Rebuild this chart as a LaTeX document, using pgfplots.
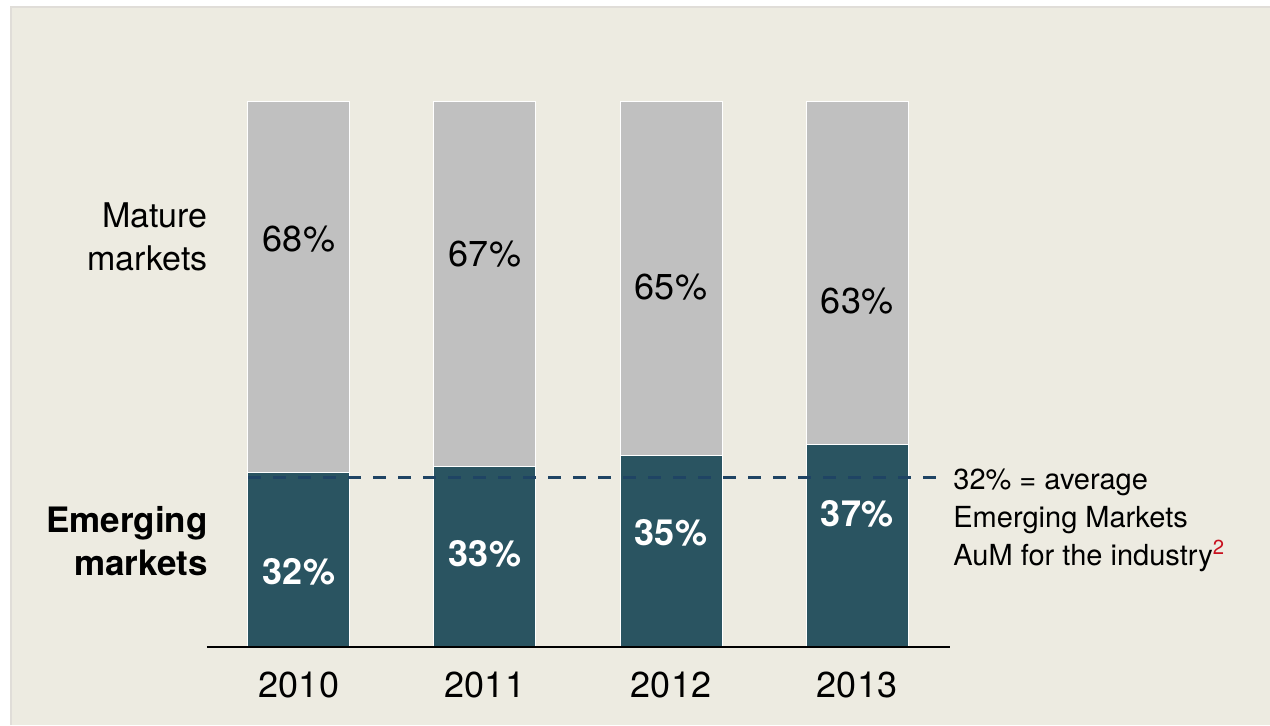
\documentclass[border=0pt]{standalone}
\usepackage{pgfplots}
\pgfplotsset{compat=1.18}
\usepackage{fontspec}
\setmainfont{TeX Gyre Heros}
\definecolor{bg}{RGB}{237,235,225}
\definecolor{framec}{RGB}{224,221,216}
\definecolor{emerg}{RGB}{42,84,97}
\definecolor{mature}{RGB}{192,192,192}
\definecolor{avg}{RGB}{31,68,100}
\definecolor{fnred}{RGB}{200,16,30}
\begin{document}
\begin{tikzpicture}
\begin{scope}[x=0.5pt,y=-0.5pt,shift={(-103.5pt,323.5pt)}]
  \fill[white] (0,0) rectangle (1270,725);
  \fill[bg] (11,7) rectangle (1270,725);
  \draw[framec, line width=1pt] (11.5,725) -- (11.5,7.5) -- (1270,7.5);
\end{scope}
\begin{axis}[
  at={(0,0)}, anchor=south west, scale only axis,
  width=371.5pt, height=273pt,
  xmin=-0.4946, xmax=3.5, ymin=0, ymax=100,
  ybar stacked, bar width=51pt,
  axis line style={draw=none},
  ytick=\empty,
  xtick={0,1,2,3}, xticklabels={2010,2011,2012,2013},
  major tick length=0pt,
  xticklabel style={anchor=base, yshift=-25pt, font=\fontsize{18}{22}\selectfont},
  clip=false,
]
\addplot[fill=emerg, draw=white, line width=0.5pt] coordinates {(0,32) (1,33) (2,35) (3,37)};
\addplot[fill=mature, draw=white, line width=0.5pt] coordinates {(0,68) (1,67) (2,65) (3,63)};
\end{axis}
\begin{axis}[
  at={(0,0)}, anchor=south west, scale only axis,
  width=371.5pt, height=273pt,
  xmin=-0.4946, xmax=3.5, ymin=0, ymax=100,
  hide axis, clip=false,
]
\draw[black, line width=1pt] (rel axis cs:0,0) -- (rel axis cs:1,0);
\addplot[avg, line width=1.5pt, dash pattern=on 6.5pt off 6pt, mark=none] coordinates {(-0.274,31) (3.473,31)};
\node[anchor=base, font=\fontsize{18}{22}\selectfont] at (axis cs:0,72.5) {68\%};
\node[anchor=base, font=\fontsize{18}{22}\selectfont] at (axis cs:1,69.6) {67\%};
\node[anchor=base, font=\fontsize{18}{22}\selectfont] at (axis cs:2,63.7) {65\%};
\node[anchor=base, font=\fontsize{18}{22}\selectfont] at (axis cs:3,61.0) {63\%};
\node[anchor=base, white, font=\bfseries\fontsize{18}{22}\selectfont] at (axis cs:0,11.5) {32\%};
\node[anchor=base, white, font=\bfseries\fontsize{18}{22}\selectfont] at (axis cs:1,14.8) {33\%};
\node[anchor=base, white, font=\bfseries\fontsize{18}{22}\selectfont] at (axis cs:2,18.5) {35\%};
\node[anchor=base, white, font=\bfseries\fontsize{18}{22}\selectfont] at (axis cs:3,22.0) {37\%};
\end{axis}
\begin{scope}[x=0.5pt,y=-0.5pt,shift={(-103.5pt,323.5pt)}]
  \node[inner sep=0pt, anchor=base east, font=\fontsize{17}{20}\selectfont] at (208,227) {Mature};
  \node[inner sep=0pt, anchor=base east, font=\fontsize{17}{20}\selectfont] at (208,270) {markets};
  \node[inner sep=0pt, anchor=base east, font=\bfseries\fontsize{17.5}{21}\selectfont] at (208,532) {Emerging};
  \node[inner sep=0pt, anchor=base east, font=\bfseries\fontsize{17.5}{21}\selectfont] at (208,575) {markets};
  \node[inner sep=0pt, anchor=base west, font=\fontsize{14.5}{18}\selectfont] at (953,489) {32\% = average};
  \node[inner sep=0pt, anchor=base west, font=\fontsize{14.5}{18}\selectfont] at (953,527) {Emerging Markets};
  \node[inner sep=0pt, anchor=base west, font=\fontsize{14.5}{18}\selectfont] at (953,565) {AuM for the industry\textsuperscript{\color{fnred}2}};
  \pgfresetboundingbox
  \useasboundingbox (0,0) rectangle (1270,725);
\end{scope}
\end{tikzpicture}
\end{document}
